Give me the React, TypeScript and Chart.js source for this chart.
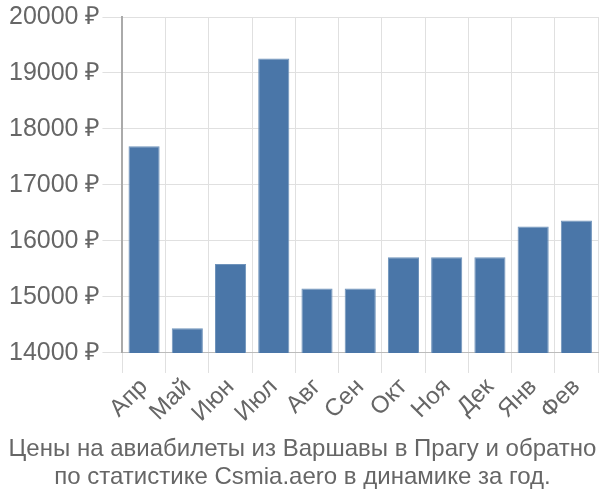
import React, { useEffect, useRef } from "react";
import { Chart, registerables } from "chart.js";

Chart.register(...registerables);

const months = ["Апр", "Май", "Июн", "Июл", "Авг", "Сен", "Окт", "Ноя", "Дек", "Янв", "Фев"];
const prices = [17690, 14440, 15590, 19260, 15150, 15150, 15710, 15710, 15710, 16260, 16365];
const titleLines = [
  "Цены на авиабилеты из Варшавы в Прагу и обратно",
  "по статистике Csmia.aero в динамике за год.",
];
const yMin = 14000;
const yMax = 20000;
const yStep = 1000;

const FONT = "'Liberation Sans', Arial, sans-serif";

export default function App() {
  const ref = useRef<HTMLCanvasElement | null>(null);
  useEffect(() => {
    if (!ref.current) return;
    const chart = new Chart(ref.current, {
      type: "bar",
      data: {
        labels: months,
        datasets: [
          {
            data: prices,
            backgroundColor: "#4a76a8",
            borderColor: "#6f93bb",
            borderWidth: 1,
          },
        ],
      },
      options: {
        animation: false,
        responsive: false,
        maintainAspectRatio: false,
        layout: { padding: { left: 7, right: 2, top: 0, bottom: 0 } },
        plugins: {
          legend: { display: false },
          tooltip: { enabled: false },
          title: {
            display: true,
            position: "bottom",
            text: titleLines,
            color: "#666",
            font: { family: FONT, size: 24, weight: "normal", lineHeight: 1.15 },
            padding: { top: 8, bottom: 9 },
          },
        },
        scales: {
          x: {
            grid: { color: "#e0e0e0", tickLength: 20, offset: true },
            border: { color: "#bbb" },
            ticks: {
              color: "#666",
              font: { family: FONT, size: 24 },
              maxRotation: 45,
              minRotation: 45,
              autoSkip: false,
              padding: 0,
            },
          },
          y: {
            min: yMin,
            max: yMax,
            grid: { color: "#e0e0e0", tickLength: 20 },
            border: { color: "#aaa", width: 2 },
            ticks: {
              stepSize: yStep,
              color: "#666",
              font: { family: FONT, size: 25 },
              padding: 2,
              callback: (v: any) => `${v} ₽`,
            },
          },
        },
      },
    });
    return () => chart.destroy();
  }, []);
  return (
    <div style={{ position: "fixed", left: 0, top: 0, width: 600, height: 500, background: "#fff" }}>
      <canvas ref={ref} width={600} height={500} style={{ width: 600, height: 500 }} />
    </div>
  );
}
